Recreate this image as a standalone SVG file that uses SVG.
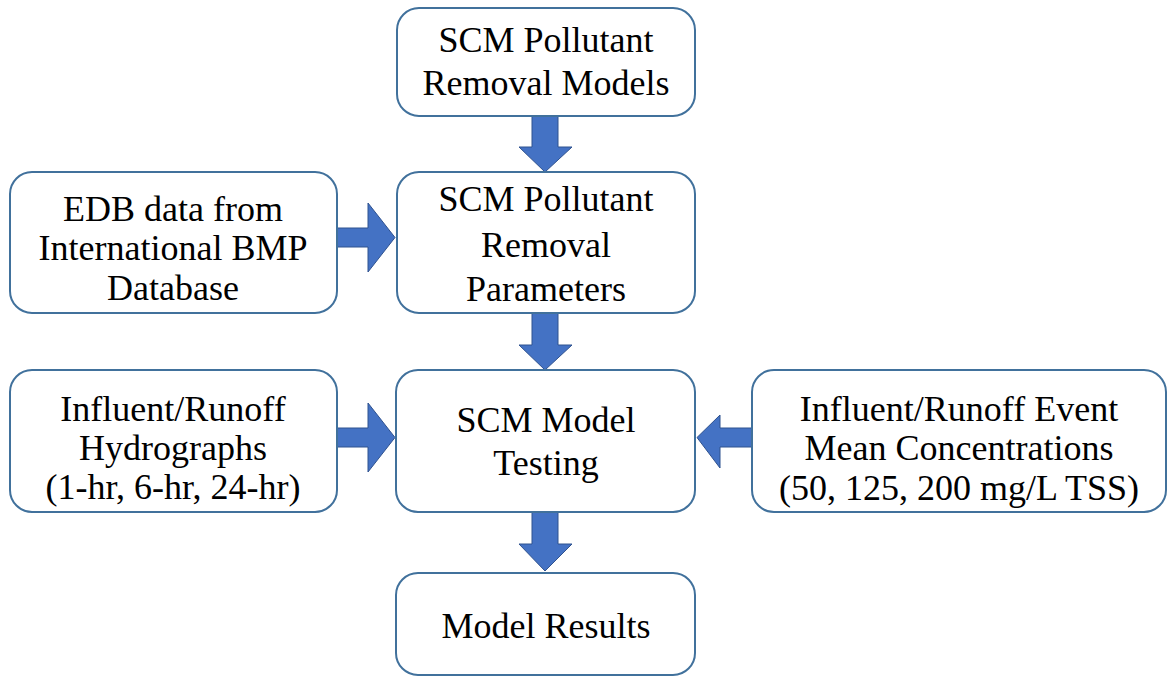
<svg xmlns="http://www.w3.org/2000/svg" width="1169" height="677" viewBox="0 0 1169 677">
<style>
.box{fill:#fff;stroke:#41719C;stroke-width:2}
.arr{fill:#4472C4;stroke:#2F528F;stroke-width:1}
.t{font-family:"Liberation Serif","Times New Roman",serif;font-size:36px;fill:#000;text-anchor:middle}
</style>
<rect width="1169" height="677" fill="#fff"/>
<g id="connectors">
<path class="arr" d="M532,116 H558 V147 H572 L545,172 L519,147 H532 Z"/>
<path class="arr" d="M532,313 H558 V345 H572 L545,370 L519,345 H532 Z"/>
<path class="arr" d="M532,512 H558 V544 H572 L545,571 L519,544 H532 Z"/>
<path class="arr" d="M337,228 H368 V203 L395,237.5 L368,272 V247 H337 Z"/>
<path class="arr" d="M337,428 H368 V403 L395,437.5 L368,472 V447 H337 Z"/>
<path class="arr" d="M752,428 H720 V415 L697,437.5 L720,468 V447 H752 Z"/>
</g>
<g id="n1"><rect class="box" x="397" y="8" width="298" height="108" rx="22"/>
<text class="t" x="546" y="52">SCM Pollutant</text><text class="t" x="546" y="95">Removal Models</text></g>
<g id="n2"><rect class="box" x="397" y="172" width="298" height="141" rx="22"/>
<text class="t" x="546" y="211">SCM Pollutant</text><text class="t" x="546" y="257">Removal</text><text class="t" x="546" y="301">Parameters</text></g>
<g id="n3"><rect class="box" x="10" y="172" width="327" height="141" rx="22"/>
<text class="t" x="173" y="221">EDB data from</text><text class="t" x="173" y="260">International BMP</text><text class="t" x="173" y="300">Database</text></g>
<g id="n4"><rect class="box" x="396" y="370" width="299" height="142" rx="22"/>
<text class="t" x="546" y="432">SCM Model</text><text class="t" x="546" y="475">Testing</text></g>
<g id="n5"><rect class="box" x="10" y="370" width="327" height="142" rx="22"/>
<text class="t" x="173" y="421">Influent/Runoff</text><text class="t" x="173" y="460">Hydrographs</text><text class="t" x="173" y="499">(1-hr, 6-hr, 24-hr)</text></g>
<g id="n6"><rect class="box" x="752" y="370" width="414" height="142" rx="22"/>
<text class="t" x="959" y="421">Influent/Runoff Event</text><text class="t" x="959" y="460">Mean Concentrations</text><text class="t" x="959" y="500">(50, 125, 200 mg/L TSS)</text></g>
<g id="n7"><rect class="box" x="396" y="573" width="299" height="102" rx="22"/>
<text class="t" x="546" y="638">Model Results</text></g>
</svg>
